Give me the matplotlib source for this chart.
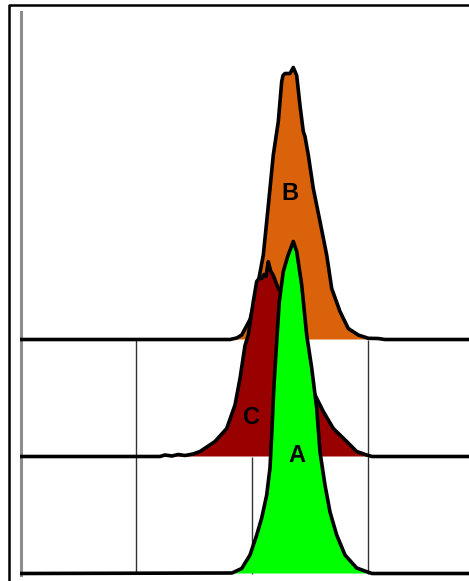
import matplotlib
matplotlib.use("Agg")
import matplotlib.pyplot as plt

W, H = 469, 581

# Channel positions and counts for each sample
a_x = [232, 241.7, 250, 256.7, 261.7, 266.7, 270, 271.7, 274, 276.7, 279.3, 283.3, 288, 293.3,
       296.7, 301.7, 306.7, 311.7, 316.7, 320, 325, 330, 336.7, 345, 356.7, 366.7, 372]
a_y = [0.5, 5, 18.5, 38.5, 55.5, 78.5, 105.5, 138.5, 188.5, 232, 272, 302, 318, 332,
       322, 288.5, 238.5, 205.5, 165.5, 121.5, 88.5, 61.5, 38.5, 18.5, 5.5, 1.8, 0]

c_x = [160, 165, 172, 178, 185, 193, 200, 215, 226.7, 235, 240, 245, 248.3, 253.3, 256.7,
       259, 261.7, 264, 266, 268.3, 270.5, 273.3, 278.3, 285, 295, 305, 313.3, 323.3,
       333.3, 346.7, 356.7, 366.7, 372]
c_y = [0, 1.5, 0.5, 2, 1, 2.5, 5, 15, 28, 51.5, 78, 111, 121.5, 155, 175,
       178, 178, 182, 180, 194.8, 186, 181, 168, 160, 130, 95, 65, 45,
       28, 15, 5, 1.5, 0]

b_x = [230, 236.7, 241.7, 250, 255, 263.3, 266.7, 270, 273.3, 278.3, 281.7, 283, 285, 290,
       293.3, 296.7, 300, 303.3, 305, 308.3, 313.3, 320, 326.7, 331.7, 340, 348.3,
       358.3, 368.3, 378, 385]
b_y = [0, 1.5, 4.5, 20, 40, 84.5, 118, 151, 184.5, 218, 258, 264, 266, 266,
       272, 264, 234, 208, 203, 184.5, 151, 118, 84.5, 51, 28, 11,
       4.5, 1.2, 1, 0]

samples = ["B", "C", "A"]
xs = {"A": a_x, "B": b_x, "C": c_x}
ys = {"A": a_y, "B": b_y, "C": c_y}
baselines = {"A": 7.5, "C": 124.5, "B": 241.5}
colors = {"A": "#00ff00", "B": "#d9620a", "C": "#990000"}
label_pos = {"A": (297, 126), "B": (290, 387), "C": (252, 163)}

x_start, x_end = 20, 469

fig = plt.figure(figsize=(W / 100, H / 100), dpi=100)
ax = fig.add_axes([0, 0, 1, 1])
ax.set_xlim(0, W)
ax.set_ylim(0, H)
ax.axis("off")

# frame
ax.plot([8.8, 8.8, W], [0, 576, 576], color="black", lw=1.8, zorder=1,
        solid_capstyle="butt")
ax.plot([21, 21], [6, 569], color="#8c8c8c", lw=2.2, zorder=1)

# grid verticals
ax.vlines([136, 368], baselines["A"], baselines["B"], color="#333333", lw=1.0, zorder=2)
ax.vlines([252], baselines["A"], baselines["C"], color="#333333", lw=1.0, zorder=2)

z = 3
for s in samples:
    b = baselines[s]
    px = [x_start] + xs[s] + [x_end]
    py = [b] + [b + v for v in ys[s]] + [b]
    ax.fill(px, py, color=colors[s], lw=0, zorder=z)
    ax.plot(px, py, color="black", lw=2.6, zorder=z + 0.5,
            solid_joinstyle="round", solid_capstyle="butt")
    lx, ly = label_pos[s]
    ax.text(lx, ly, s, ha="center", va="center", fontsize=17, fontweight="bold",
            family="Liberation Sans", color="black", zorder=z + 0.6)
    z += 1

fig.savefig("out.png", dpi=100)
